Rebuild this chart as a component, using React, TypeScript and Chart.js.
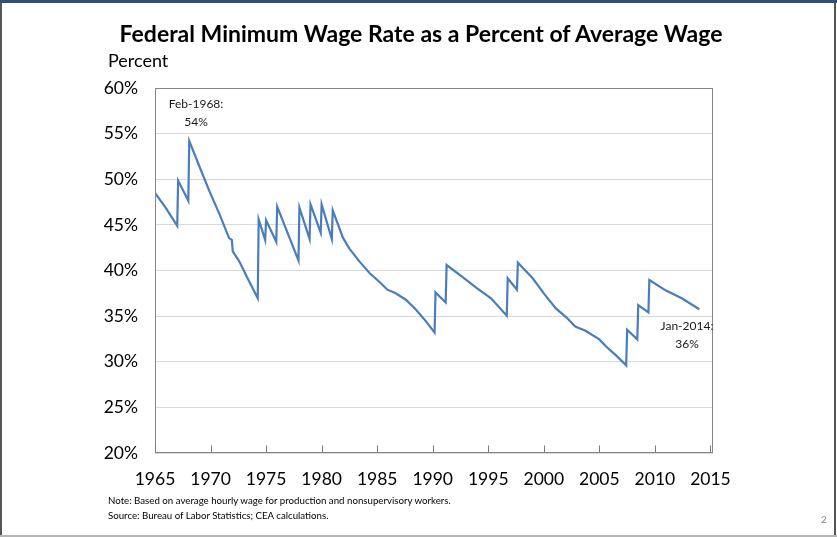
import React, { useEffect, useRef } from "react";
import { Chart, registerables } from "chart.js";

Chart.register(...registerables);

// Month of each vertex (YYYY-MM) and the value there (percent)
const months: string[] = [
  "1965-01", "1966-01", "1967-01", "1967-02", "1968-01", "1968-02", "1969-01", "1969-12",
  "1970-11", "1971-09", "1971-12", "1972-01", "1972-08", "1973-05", "1974-04", "1974-05",
  "1974-12", "1975-01", "1975-12", "1976-01", "1977-12", "1978-01", "1978-12", "1979-01",
  "1979-12", "1980-01", "1980-12", "1981-01", "1981-12", "1982-07", "1983-06", "1984-05",
  "1985-03", "1985-12", "1986-09", "1987-08", "1988-07", "1989-06", "1990-03", "1990-04",
  "1991-03", "1991-04", "1992-09", "1994-01", "1995-04", "1996-09", "1996-10", "1997-08",
  "1997-09", "1999-01", "2000-01", "2001-02", "2002-01", "2002-11", "2003-10", "2005-01",
  "2005-08", "2006-07", "2007-06", "2007-07", "2008-06", "2008-07", "2009-06", "2009-07",
  "2011-01", "2012-06", "2014-01",
];
const ratio: number[] = [
  48.5, 46.8, 44.9, 49.85, 47.65, 54.2, 51.4, 48.65,
  46.1, 43.55, 43.35, 42.1, 41.0, 39.15, 36.95, 45.6,
  43.35, 45.5, 43.15, 47.0, 41.1, 46.9, 43.45, 47.25,
  44.15, 47.25, 43.45, 46.6, 43.6, 42.4, 40.97, 39.7,
  38.8, 37.9, 37.5, 36.8, 35.7, 34.4, 33.2, 37.6,
  36.5, 40.6, 39.3, 38.05, 36.95, 35.05, 39.15, 37.9,
  40.85, 39.15, 37.5, 35.85, 34.9, 33.85, 33.4, 32.45,
  31.7, 30.7, 29.6, 33.5, 32.45, 36.2, 35.4, 38.95,
  37.8, 36.95, 35.75,
];
const xTickYears: number[] = [1965, 1970, 1975, 1980, 1985, 1990, 1995, 2000, 2005, 2010, 2015];
const yTickValues: number[] = [20, 25, 30, 35, 40, 45, 50, 55, 60];

const FONT = "Lato, 'Open Sans', sans-serif";

const frameAndTicks = {
  id: "frameAndTicks",
  afterDraw(chart: any) {
    const { ctx, chartArea } = chart;
    const xs = chart.scales.x;
    ctx.save();
    ctx.strokeStyle = "#868686";
    ctx.lineWidth = 1;
    const l = Math.round(chartArea.left) + 0.5;
    const t = Math.round(chartArea.top) + 0.5;
    const r = Math.round(chartArea.right) - 0.5;
    const b = Math.round(chartArea.bottom) - 0.5;
    ctx.strokeRect(l, t, r - l, b - t);
    ctx.strokeStyle = "#7a7a7a";
    ctx.beginPath();
    for (const v of xTickYears) {
      const px = Math.round(xs.getPixelForValue(v)) + 0.5;
      ctx.moveTo(px, b);
      ctx.lineTo(px, b - 7);
    }
    ctx.stroke();
    ctx.restore();
  },
};

export default function App() {
  const ref = useRef<HTMLCanvasElement | null>(null);

  useEffect(() => {
    if (!ref.current) return;
    const points = months.map((m, i) => {
      const [y, mo] = m.split("-").map(Number);
      return { x: y + (mo - 1) / 12, y: ratio[i] };
    });
    const chart = new Chart(ref.current, {
      type: "line",
      data: {
        datasets: [
          {
            data: points,
            borderColor: "#4a7ebb",
            borderWidth: 2.2,
            pointRadius: 0,
            tension: 0,
            fill: false,
          },
        ],
      },
      options: {
        animation: false,
        responsive: false,
        devicePixelRatio: 1,
        layout: { padding: { left: 0, top: 88, right: 124, bottom: 44 } },
        plugins: { legend: { display: false }, tooltip: { enabled: false } },
        scales: {
          x: {
            type: "linear",
            min: 1965,
            max: 2015.23,
            grid: { display: false, drawTicks: false },
            border: { display: false },
            afterBuildTicks: (s: any) => {
              s.ticks = xTickYears.map((v) => ({ value: v }));
            },
            afterFit: (s: any) => {
              s.height = 40;
            },
            ticks: {
              autoSkip: false,
              maxRotation: 0,
              padding: 16,
              color: "#000",
              font: { family: FONT, size: 17.5 },
              callback: (v: any) => String(v),
            },
          },
          y: {
            min: 20,
            max: 60,
            afterBuildTicks: (s: any) => {
              s.ticks = yTickValues.map((v) => ({ value: v }));
            },
            afterFit: (s: any) => {
              s.width = 155;
            },
            grid: { color: "#d9d9d9", lineWidth: 1, drawTicks: false },
            border: { display: false },
            ticks: {
              padding: 17,
              color: "#000",
              font: { family: FONT, size: 17.5 },
              callback: (v: any) => v + "%",
            },
          },
        },
      },
      plugins: [frameAndTicks],
    });
    return () => chart.destroy();
  }, []);

  const abs = (o: any) => ({ position: "absolute" as const, ...o });

  return (
    <div
      style={abs({
        left: 0,
        top: 0,
        width: 837,
        height: 537,
        background: "#fff",
        fontFamily: FONT,
        overflow: "hidden",
      })}
    >
      <canvas ref={ref} width={837} height={537} style={abs({ left: 0, top: 0 })} />
      <div style={abs({ left: 0, top: 0, width: 837, height: 3, background: "#2f4f7f", zIndex: 2 })} />
      <div style={abs({ left: 0, top: 3, width: 2, height: 534, background: "#555", zIndex: 2 })} />
      <div style={abs({ left: 834, top: 3, width: 2, height: 534, background: "#555", zIndex: 2 })} />
      <div style={abs({ left: 0, top: 535, width: 837, height: 2, background: "#b5b5b5", zIndex: 2 })} />
      <div
        style={abs({
          left: 0,
          top: 19,
          width: 842,
          textAlign: "center",
          fontWeight: 700,
          fontSize: 23,
          lineHeight: "28px",
          color: "#000",
        })}
      >
        Federal Minimum Wage Rate as a Percent of Average Wage
      </div>
      <div style={abs({ left: 108, top: 49, fontSize: 18, lineHeight: "22px", color: "#000" })}>
        Percent
      </div>
      <div
        style={abs({
          left: 156,
          top: 95,
          width: 80,
          textAlign: "center",
          fontSize: 12,
          lineHeight: "18px",
          color: "#1a1a1a",
        })}
      >
        Feb-1968:
        <br />
        54%
      </div>
      <div
        style={abs({
          left: 647,
          top: 317,
          width: 80,
          textAlign: "center",
          fontSize: 12,
          lineHeight: "18px",
          color: "#1a1a1a",
        })}
      >
        Jan-2014:
        <br />
        36%
      </div>
      <div style={abs({ left: 108, top: 493, fontSize: 9.7, lineHeight: "15px", color: "#000" })}>
        Note: Based on average hourly wage for production and nonsupervisory workers.
        <br />
        Source: Bureau of Labor Statistics; CEA calculations.
      </div>
      <div style={abs({ left: 821, top: 513, fontSize: 10, color: "#888" })}>2</div>
    </div>
  );
}
